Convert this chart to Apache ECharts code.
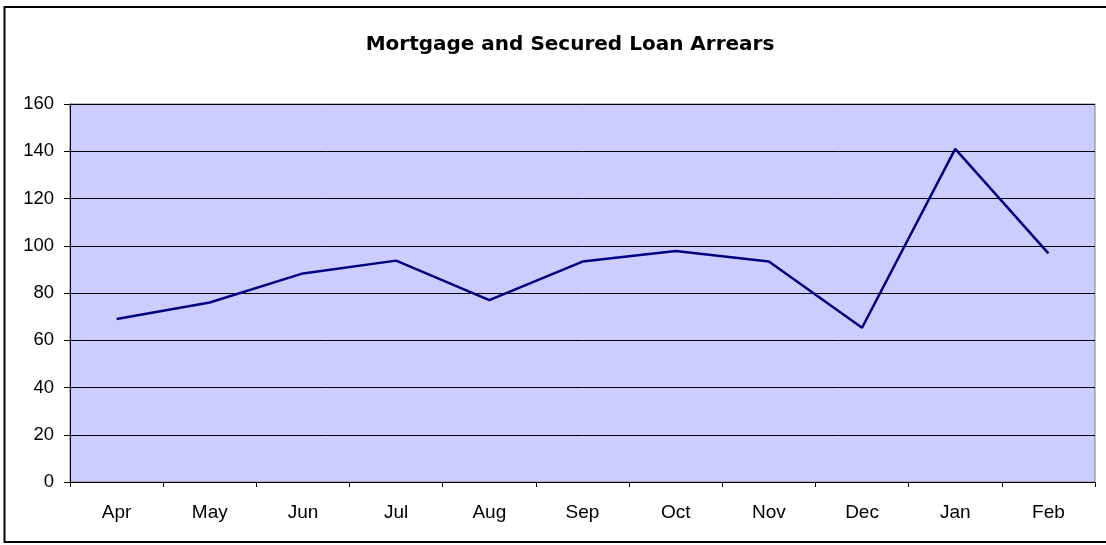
<!DOCTYPE html>
<html>
<head>
<meta charset="utf-8">
<script src="https://cdn.jsdelivr.net/npm/echarts@6/dist/echarts.min.js"></script>
<style>
html,body{margin:0;padding:0;background:#fff;}
#c{width:1106px;height:545px;}
</style>
</head>
<body>
<div id="c"></div>
<script>
var categories = ['Apr','May','Jun','Jul','Aug','Sep','Oct','Nov','Dec','Jan','Feb'];
var arrears = [69, 76, 88.3, 93.7, 77, 93.3, 97.8, 93.3, 65.3, 141, 96.8];
var yTicks = [0, 20, 40, 60, 80, 100, 120, 140, 160];

var chart = echarts.init(document.getElementById('c'));
chart.setOption({
  animation: false,
  backgroundColor: '#ffffff',
  title: {
    text: 'Mortgage and Secured Loan Arrears',
    left: 565,
    textAlign: 'center',
    top: 30,
    textStyle: {fontFamily: 'DejaVu Sans, Liberation Sans, Arial, sans-serif', fontSize: 20, fontWeight: 'bold', color: '#000'}
  },
  graphic: [{
    type: 'rect',
    shape: {x: 4.5, y: 7, width: 1120, height: 535},
    style: {fill: 'none', stroke: '#000', lineWidth: 2},
    silent: true
  }],
  grid: {
    left: 70, top: 104, width: 1025, height: 378,
    show: true, backgroundColor: '#ccccff', borderColor: '#808080', borderWidth: 1
  },
  xAxis: {
    type: 'category',
    data: categories,
    boundaryGap: true,
    axisLine: {lineStyle: {color: '#000', width: 1}},
    axisTick: {show: true, length: 5, inside: false, lineStyle: {color: '#000'}},
    axisLabel: {color: '#000', fontSize: 19, fontFamily: 'Liberation Sans, Arial, sans-serif', margin: 21},
    splitLine: {show: false}
  },
  yAxis: {
    type: 'value',
    min: yTicks[0], max: yTicks[yTicks.length - 1], interval: 20,
    axisLine: {show: true, lineStyle: {color: '#000', width: 1}},
    axisTick: {show: true, length: 6, lineStyle: {color: '#000'}},
    axisLabel: {color: '#000', fontSize: 18.5, fontFamily: 'Liberation Sans, Arial, sans-serif', margin: 16},
    splitLine: {show: true, lineStyle: {color: '#000', width: 1}}
  },
  series: [{
    type: 'line',
    data: arrears,
    symbol: 'none',
    lineStyle: {color: '#000080', width: 2.5},
    itemStyle: {color: '#000080'}
  }]
});
</script>
</body>
</html>
